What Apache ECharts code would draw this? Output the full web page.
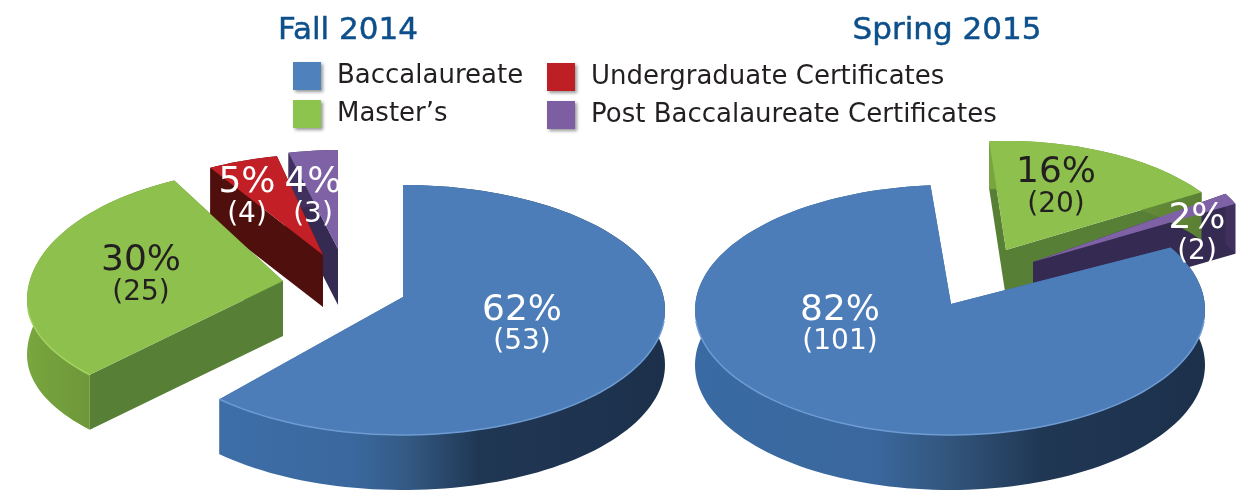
<!DOCTYPE html>
<html><head><meta charset="utf-8">
<style>html,body{margin:0;padding:0;background:#fff}#c{width:1255px;height:491px}</style>
<script src="https://cdn.jsdelivr.net/npm/echarts@6/dist/echarts.min.js"></script>
</head><body><div id="c"></div>
<script>
// ---- data ----
const pies = ['Fall 2014', 'Spring 2015'];
const categories = ['Baccalaureate', "Master\u2019s", 'Undergraduate Certificates', 'Post Baccalaureate Certificates'];
const fallCounts = [53, 25, 4, 3];
const fallPercents = [62, 30, 5, 4];
const springCounts = [101, 20, 0, 2];
const springPercents = [82, 16, 0, 2];

// ---- layout and style ----
const FONT = '"DejaVu Sans", Inter, sans-serif';
const h = (stops) => ({type:'linear', x:0, y:0, x2:1, y2:0, colorStops:stops.map(p=>({offset:p[0], color:p[1]}))});
const fallWall = h([[0,'#3e6ea8'],[0.3,'#3a689e'],[0.42,'#345a84'],[0.58,'#203754'],[1,'#1c304b']]);
const springWall = h([[0,'#3a6aa3'],[0.35,'#3a689e'],[0.5,'#32557c'],[0.68,'#203754'],[1,'#1c304b']]);
const slices = {
  0: [ // Fall 2014
    {cx:403, cy:310, rx:262, ry:125, ax:403, ay:297, depth:55, t0:0,   lx:522,  ly:311, sx:522,  sy:342, ink:'#fff', wall:fallWall},
    {cx:283, cy:300, rx:256, ry:114, ryBack:132, ax:283, ay:281, depth:55, t0:229, lx:141,  ly:261, sx:141,  sy:293, ink:'#231f20'},
    {cx:323, cy:272, rx:240, ry:118, ax:323, ay:255, depth:52, t0:332, lx:247,  ly:183, sx:247,  sy:215, ink:'#fff'},
    {cx:338, cy:265, rx:225, ry:115, ax:338, ay:249, depth:56, t0:347.3, lx:313, ly:183, sx:313, sy:215, ink:'#fff'}
  ],
  1: [ // Spring 2015
    {cx:950, cy:310, rx:255, ry:125, ax:951, ay:304, depth:55, t0:60, lx:840,  ly:311, sx:840,  sy:342, ink:'#fff', wall:springWall},
    {cx:1006, cy:263, rx:240, ry:122, ax:1006, ay:250, depth:48, t0:-4, lx:1056, ly:173, sx:1056, sy:205, ink:'#231f20'},
    null,
    {cx:1033, cy:247, rx:220, ry:110, ax:1033, ay:262, depth:50, t0:61, lx:1197, ly:219, sx:1197, sy:252, ink:'#fff'}
  ]
};
const paint = [
  {top:'#4d7db8', rim:'#6d9bd2', cut:'#3a6aa2', wall:fallWall, swatch:'#4f81bd'},
  {top:'#8dc04d', rim:'#a6d35f', cut:'#587f36', wall:h([[0,'#79a63e'],[0.5,'#6b9439'],[1,'#5b8035']]), swatch:'#8cc44e'},
  {top:'#c21f26', rim:'#c21f26', cut:'#4f0f0d', wall:'#4f0f0d', swatch:'#bd1f24'},
  {top:'#7f62a5', rim:'#7f62a5', cut:'#352a52', wall:'#41305e', swatch:'#7d5ea3'}
];
const counts = [fallCounts, springCounts];
const percents = [fallPercents, springPercents];
const sum = a => a.reduce((s,v)=>s+v,0);

function arc(s, t0, t1) {
  const out = [], n = Math.max(2, Math.ceil(Math.abs(t1-t0)/2));
  for (let i=0;i<=n;i++) {
    const t = (t0+(t1-t0)*i/n)*Math.PI/180, c = Math.cos(t);
    const ry = (c > 0 && s.ryBack) ? s.ryBack : s.ry;
    out.push([s.cx+s.rx*Math.sin(t), s.cy-ry*c]);
  }
  return out;
}
const drop = (pts,d) => pts.map(p=>[p[0],p[1]+d]);

function renderer(catIndex) {
  return function (params, api) {
    const pie = api.value(0), value = api.value(1);
    const s = slices[pie][catIndex];
    if (!s || !value) return {type:'group', children:[]};
    const span = value/sum(counts[pie])*360;
    const t1 = s.t0+span;
    const rim = arc(s, s.t0, t1);
    const apex = [s.ax, s.ay], c = paint[catIndex], kids = [];
    const poly = (points, fill, z2) => ({type:'polygon', z2, shape:{points}, style:{fill, lineWidth:0}});
    // cut faces, then the outer wall, then the top face
    [rim[0], rim[rim.length-1]].forEach(p => {
      kids.push(poly([apex, p, [p[0],p[1]+s.depth], [apex[0],apex[1]+s.depth]], c.cut, 1));
    });
    kids.push(poly(rim.concat(drop(rim,s.depth).reverse()), s.wall || c.wall, 2));
    kids.push(poly([apex].concat(rim), c.top, 3));
    // bright bevel along the front of the rim
    const a = Math.max(s.t0, 95), b = Math.min(t1, 265);
    if (b > a) kids.push({type:'polyline', z2:4, shape:{points:arc(s,a,b)}, style:{fill:'none', stroke:c.rim, lineWidth:1.5}});
    const pct = percents[pie][catIndex];
    kids.push({type:'text', z2:50, style:{text:pct+'%', x:s.lx, y:s.ly, fill:s.ink, font:'400 36px '+FONT, textAlign:'center', textVerticalAlign:'middle'}});
    kids.push({type:'text', z2:50, style:{text:'('+value+')', x:s.sx, y:s.sy, fill:s.ink, font:'400 28px '+FONT, textAlign:'center', textVerticalAlign:'middle'}});
    return {type:'group', children:kids};
  };
}
// draw order: back pieces first, the big slices last
const drawOrder = [1, 3, 2, 0];
const series = drawOrder.map(i => ({
  type:'custom', name:categories[i], coordinateSystem:'none', silent:true, animation:false,
  itemStyle:{color:paint[i].swatch},
  encode:{tooltip:[1]},
  data:[[0, counts[0][i]], [1, counts[1][i]]],
  renderItem:renderer(i)
}));
const legendItem = i => ({name:categories[i], icon:'rect', itemStyle:{color:paint[i].swatch, shadowColor:'rgba(0,0,0,0.4)', shadowBlur:3, shadowOffsetX:2, shadowOffsetY:2}});
const legendBase = {orient:'vertical', itemWidth:28, itemHeight:28, itemGap:10, selectedMode:false,
  textStyle:{fontFamily:FONT, fontSize:26, color:'#231f20', padding:[3,0,0,11]}, padding:0};
const titleStyle = {fontFamily:FONT, fontSize:31, fontWeight:400, color:'#0c4f8a', textBorderColor:'#0c4f8a', textBorderWidth:0.5};

const chart = echarts.init(document.getElementById('c'), null, {renderer:'canvas'});
chart.setOption({
  animation:false, backgroundColor:'#fff',
  title:[
    {text:pies[0], left:343, top:10, textAlign:'center', textStyle:titleStyle},
    {text:pies[1], left:942, top:10, textAlign:'center', textStyle:titleStyle}
  ],
  legend:[
    Object.assign({left:293, top:62, data:[legendItem(0), legendItem(1)]}, legendBase),
    Object.assign({left:547, top:63, data:[legendItem(2), legendItem(3)]}, legendBase)
  ],
  series
});
</script></body></html>
